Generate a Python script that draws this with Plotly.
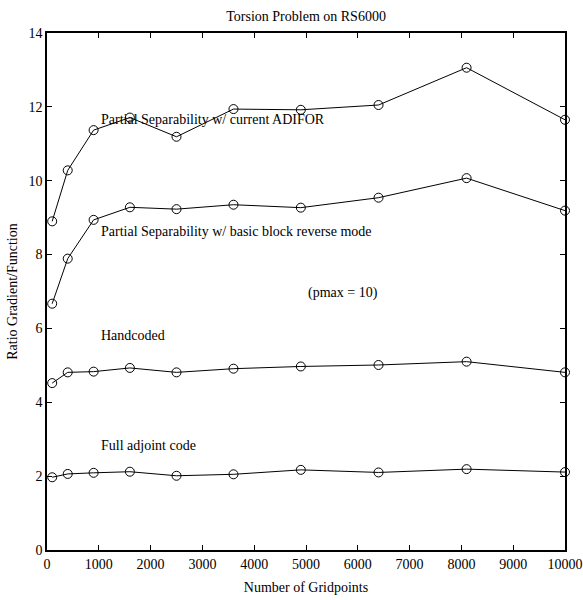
import plotly.graph_objects as go

gridpoints = [100, 400, 900, 1600, 2500, 3600, 4900, 6400, 8100, 10000]
adifor = [8.90, 10.28, 11.37, 11.71, 11.19, 11.94, 11.92, 12.05, 13.06, 11.65]
basic_block = [6.67, 7.89, 8.94, 9.28, 9.23, 9.35, 9.27, 9.54, 10.07, 9.19]
handcoded = [4.52, 4.81, 4.83, 4.93, 4.81, 4.91, 4.97, 5.01, 5.10, 4.81]
full_adjoint = [1.97, 2.06, 2.09, 2.12, 2.01, 2.05, 2.17, 2.10, 2.19, 2.11]

x_ticks = list(range(0, 10001, 1000))
x_ticktext = [str(v) for v in x_ticks]
y_ticks = list(range(0, 15, 2))

labels = [
    ("Partial Separability w/ current ADIFOR", 1000, 11.65),
    ("Partial Separability w/ basic block reverse mode", 1000, 8.63),
    ("(pmax = 10)", 5000, 6.96),
    ("Handcoded", 1000, 5.8),
    ("Full adjoint code", 1000, 2.82),
]

FONT = "Liberation Serif"

fig = go.Figure()
for ys in [adifor, basic_block, handcoded, full_adjoint]:
    fig.add_trace(go.Scatter(
        x=gridpoints, y=ys, mode="lines+markers",
        line=dict(color="black", width=1),
        marker=dict(symbol="circle-open", size=9, color="black", line=dict(width=1, color="black")),
        showlegend=False, cliponaxis=False,
    ))

for text, x, y in labels:
    fig.add_annotation(x=x, y=y, text=text, showarrow=False, xanchor="left", yanchor="middle",
                       font=dict(family=FONT, size=14, color="black"))

axis_common = dict(
    showgrid=False, zeroline=False, showline=True, linecolor="black", linewidth=1.5,
    mirror="ticks", ticks="inside", ticklen=5, tickcolor="black", tickwidth=1,
    tickfont=dict(family=FONT, size=14, color="black"), automargin=False,
)

fig.update_layout(
    width=583, height=600,
    margin=dict(l=47, r=18, t=33, b=50),
    paper_bgcolor="white", plot_bgcolor="white",
    title=dict(text="Torsion Problem on RS6000", x=0.525, xanchor="center", y=0.974, yanchor="middle",
               font=dict(family=FONT, size=14, color="black")),
    xaxis=dict(range=[0, 10000], tickvals=x_ticks, ticktext=x_ticktext,
               title=dict(text="Number of Gridpoints", font=dict(family=FONT, size=14, color="black"), standoff=12),
               **axis_common),
    yaxis=dict(range=[0, 14], tickvals=y_ticks,
               title=dict(text="Ratio Gradient/Function", font=dict(family=FONT, size=14, color="black"), standoff=8),
               **axis_common),
)

fig.write_html("out.html")
